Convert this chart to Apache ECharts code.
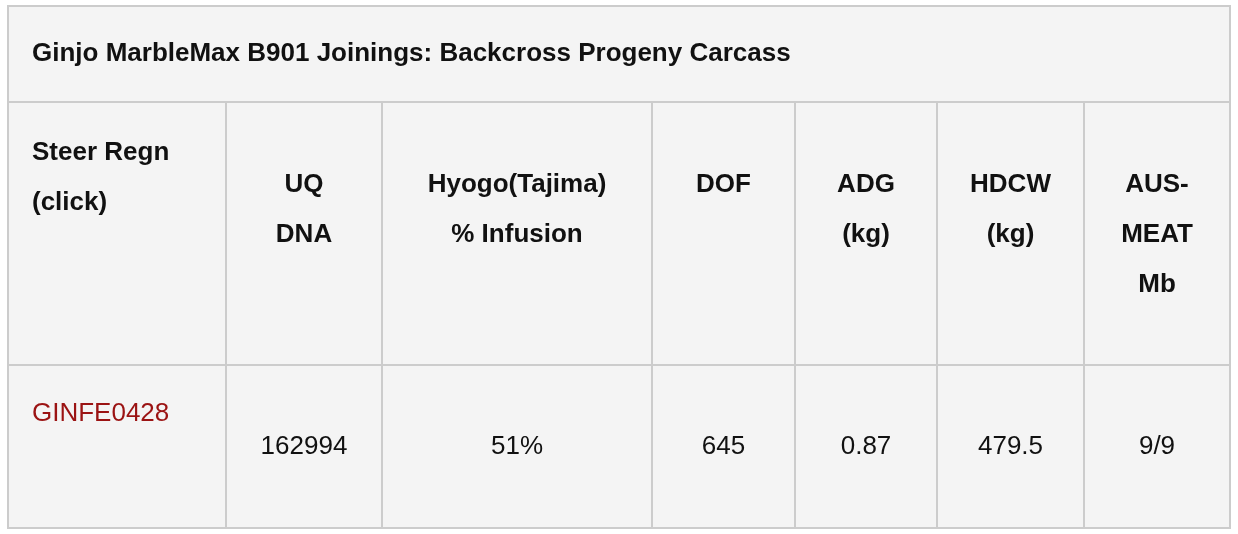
<!DOCTYPE html>
<html><head><meta charset="utf-8">
<script src="https://cdn.jsdelivr.net/npm/echarts@6/dist/echarts.min.js"></script>
<style>html,body{margin:0;padding:0;background:#fff}#c{width:1238px;height:534px}</style>
</head><body><div id="c"></div>
<script>
const title = "Ginjo MarbleMax B901 Joinings: Backcross Progeny Carcass";
const headers = [["Steer Regn","(click)"],["UQ","DNA"],["Hyogo(Tajima)","% Infusion"],["DOF"],["ADG","(kg)"],["HDCW","(kg)"],["AUS-","MEAT","Mb"]];
const row = ["GINFE0428","162994","51%","645","0.87","479.5","9/9"];

// layout
const colX = [8,226,382,652,795,937,1084,1230];
const rowY = [6,102,365,528];
const fam = 'Liberation Sans';
const els = [];
els.push({type:'rect',shape:{x:colX[0],y:rowY[0],width:colX[7]-colX[0],height:rowY[3]-rowY[0]},style:{fill:'#f4f4f4',stroke:'#cccccc',lineWidth:2}});
els.push({type:'line',shape:{x1:colX[0],y1:rowY[1],x2:colX[7],y2:rowY[1]},style:{stroke:'#cccccc',lineWidth:2}});
els.push({type:'line',shape:{x1:colX[0],y1:rowY[2],x2:colX[7],y2:rowY[2]},style:{stroke:'#cccccc',lineWidth:2}});
for(let i=1;i<7;i++) els.push({type:'line',shape:{x1:colX[i],y1:rowY[1],x2:colX[i],y2:rowY[3]},style:{stroke:'#cccccc',lineWidth:2}});
els.push({type:'text',style:{x:32,y:54,text:title,fontFamily:fam,fontSize:26,fontWeight:'bold',fill:'#111',verticalAlign:'middle'}});
headers.forEach((h,i)=>{
  const left = i===0;
  const x = left ? 32 : (colX[i]+colX[i+1])/2;
  const y0 = left ? 153 : 185;
  els.push({type:'text',style:{x:x,y:y0-25,text:h.join('\n'),lineHeight:50,fontFamily:fam,fontSize:26,fontWeight:'bold',fill:'#111',align:left?'left':'center',verticalAlign:'top'}});
});
row.forEach((v,i)=>{
  const left = i===0;
  els.push({type:'text',style:{x:left?32:(colX[i]+colX[i+1])/2,y:left?414:447,text:v,fontFamily:fam,fontSize:26,fill:left?'#9b1313':'#111',align:left?'left':'center',verticalAlign:'middle'}});
});
const chart = echarts.init(document.getElementById('c'));
chart.setOption({graphic:{elements:els}});
</script></body></html>
